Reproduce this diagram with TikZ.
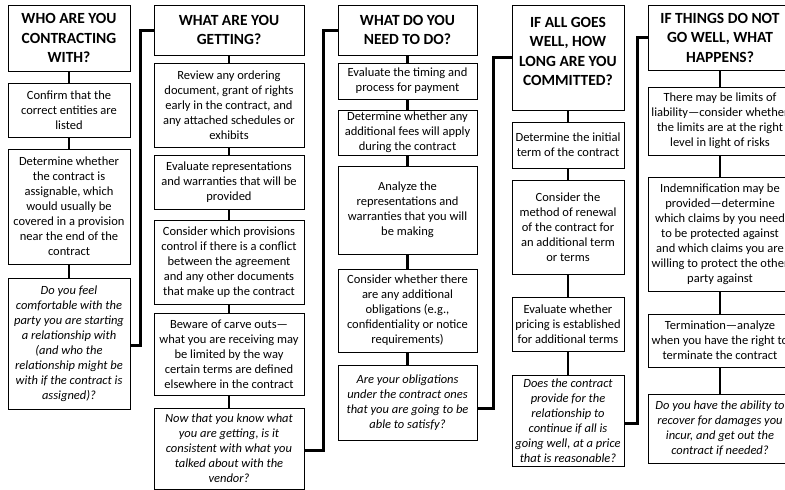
\documentclass[tikz,border=0pt]{standalone}
\usepackage{fontspec}
\setmainfont{Carlito}

\tikzset{
    box/.style={draw, line width=0.9pt, align=center, inner xsep=1pt, inner ysep=1pt,
        font=\fontsize{12.5}{15}\selectfont},
    head/.style={box, font=\fontsize{15.5}{19.5}\selectfont\bfseries},
    ask/.style={box, font=\fontsize{12.5}{15}\selectfont\itshape},
    % left, top, right, bottom edges in pixels
    span/.style n args={4}{at={({(#1+#3)/2},{(#2+#4)/2})},
        minimum width={#3pt-#1pt}, minimum height={#4pt-#2pt}},
    tie/.style={line width=2.6pt},
    link/.style={line width=3pt},
}

\begin{document}
\begin{tikzpicture}[x=1pt,y=-1pt]
    \useasboundingbox (0,0) rectangle (785,490);
    \clip (0,0) rectangle (785,490);

    % who
    \node[head,span={8}{5}{130}{71}] (a1) {WHO ARE YOU\\CONTRACTING\\WITH?};
    \node[box,span={8}{83}{130}{137}] (a2) {Confirm that the\\correct entities are\\listed};
    \node[box,span={8}{149}{130}{264}] (a3) {Determine whether\\the contract is\\assignable, which\\would usually be\\covered in a provision\\near the end of the\\contract};
    \node[ask,span={8}{278}{130}{409}] (a4) {Do you feel\\comfortable with the\\party you are starting\\a relationship with\\(and who the\\relationship might be\\with if the contract is\\assigned)?};

    % what
    \node[head,span={154}{5}{304}{55}] (b1) {WHAT ARE YOU\\GETTING?};
    \node[box,span={154}{63}{304}{147}] (b2) {Review any ordering\\document, grant of rights\\early in the contract, and\\any attached schedules or\\exhibits};
    \node[box,span={154}{155}{304}{209}] (b3) {Evaluate representations\\and warranties that will be\\provided};
    \node[box,span={154}{220}{304}{304}] (b4) {Consider which provisions\\control if there is a conflict\\between the agreement\\and any other documents\\that make up the contract};
    \node[box,span={154}{313}{304}{395}] (b5) {Beware of carve outs—\\what you are receiving may\\be limited by the way\\certain terms are defined\\elsewhere in the contract};
    \node[ask,span={154}{408}{304}{489}] (b6) {Now that you know what\\you are getting, is it\\consistent with what you\\talked about with the\\vendor?};

    % do
    \node[head,span={338}{5}{477}{55}] (c1) {WHAT DO YOU\\NEED TO DO?};
    \node[box,span={338}{63}{477}{99}] (c2) {Evaluate the timing and\\process for payment};
    \node[box,span={338}{110}{477}{155}] (c3) {Determine whether any\\additional fees will apply\\during the contract};
    \node[box,span={338}{166}{477}{254}] (c4) {Analyze the\\representations and\\warranties that you will\\be making};
    \node[box,span={338}{269}{477}{352}] (c5) {Consider whether there\\are any additional\\obligations (e.g.,\\confidentiality or notice\\requirements)};
    \node[ask,span={338}{365}{477}{440}] (c6) {Are your obligations\\under the contract ones\\that you are going to be\\able to satisfy?};

    % how long
    \node[head,span={512}{5}{624}{110}] (d1) {IF ALL GOES\\WELL, HOW\\LONG ARE YOU\\COMMITTED?\\[-7pt]\mbox{}};
    \node[box,span={512}{122}{624}{168}] (d2) {Determine the initial\\term of the contract};
    \node[box,span={512}{180}{624}{274}] (d3) {Consider the\\method of renewal\\of the contract for\\an additional term\\or terms};
    \node[box,span={512}{297}{624}{351}] (d4) {Evaluate whether\\pricing is established\\for additional terms};
    \node[ask,span={512}{375}{624}{466}] (d5) {Does the contract\\provide for the\\relationship to\\continue if all is\\going well, at a price\\that is reasonable?};

    % not well
    \node[head,span={648}{5}{792}{70}] (e1) {IF THINGS DO NOT\\GO WELL, WHAT\\HAPPENS?};
    \node[box,span={648}{87}{792}{155}] (e2) {There may be limits of\\liability—consider whether\\the limits are at the right\\level in light of risks};
    \node[box,span={648}{177}{792}{291}] (e3) {Indemnification may be\\provided—determine\\which claims by you need\\to be protected against\\and which claims you are\\willing to protect the other\\party against};
    \node[box,span={648}{314}{792}{367}] (e4) {Termination—analyze\\when you have the right to\\terminate the contract};
    \node[ask,span={648}{394}{792}{463}] (e5) {Do you have the ability to\\recover for damages you\\incur, and get out the\\contract if needed?};

    \foreach \u/\v in {a1/a2,a2/a3,a3/a4,b1/b2,b2/b3,b3/b4,b4/b5,b5/b6,
            c1/c2,c2/c3,c3/c4,c4/c5,c5/c6,d1/d2,d2/d3,d3/d4,d4/d5,
            e1/e2,e2/e3,e3/e4,e4/e5}
        \draw[tie] (\u.south) -- (\v.north);

    \coordinate (j1) at (140,345);
    \coordinate (j2) at (323,450);
    \coordinate (j3) at (493,408);
    \coordinate (j4) at (637,423);
    \draw[link] (a4.east |- j1) -- (j1) |- (b1.west);
    \draw[link] (b6.east |- j2) -- (j2) |- (c1.west);
    \draw[link] (c6.east |- j3) -- (j3) |- (d1.west);
    \draw[link] (d5.east |- j4) -- (j4) |- (e1.west);
\end{tikzpicture}
\end{document}
